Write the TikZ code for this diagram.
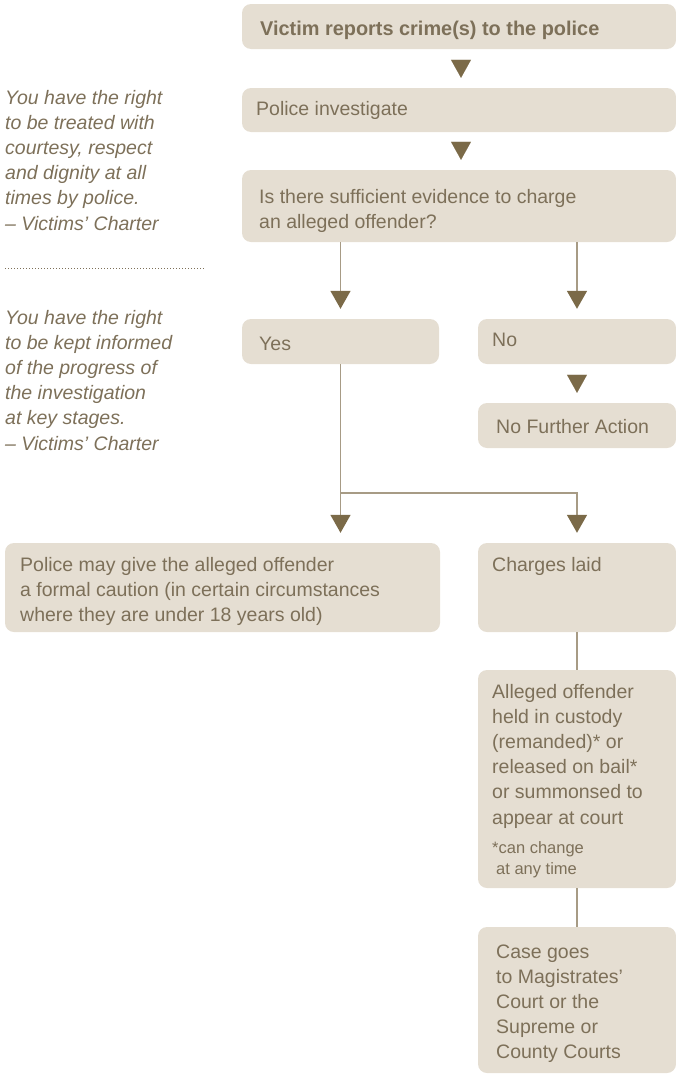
\documentclass[tikz,border=0pt]{standalone}
\usepackage{fontspec}
\setmainfont{Liberation Sans}
\usetikzlibrary{arrows.meta}

\definecolor{boxfill}{HTML}{E5DED2}
\definecolor{ink}{HTML}{7D7059}
\definecolor{tipcol}{HTML}{7B6A48}
\definecolor{wirecol}{HTML}{A79B85}

\begin{document}
\begin{tikzpicture}[x=1pt,y=-1pt,
  panel/.style={fill=boxfill, draw=none, rounded corners=9pt, inner sep=0pt},
  % multi-line texts are anchored at the baseline of their last line
  lbl/.style={anchor=base west, inner sep=0pt, text=ink, align=left,
              font=\fontsize{19.5}{25.2}\selectfont},
  lblbold/.style={lbl, font=\fontsize{19.9}{25.2}\selectfont\bfseries},
  notetxt/.style={lbl, font=\fontsize{19.5}{25.2}\selectfont\itshape},
  smalltxt/.style={lbl, font=\fontsize{16.5}{21}\selectfont},
  wire/.style={draw=wirecol, line width=1.5pt},
  flow/.style={wire, -{Triangle[length=18pt,width=20pt,color=tipcol]}, shorten >=10pt},
  tiponly/.style={draw=tipcol, line width=0.1pt,
                  -{Triangle[length=18pt,width=20pt,color=tipcol]},
                  shorten <=11pt, shorten >=10pt},
]
\useasboundingbox (0,0) rectangle (676,1076);

% ---- boxes ----
\node[panel, minimum width=434pt, minimum height=45pt] (b1)      at (459,26.5)  {};
\node[panel, minimum width=434pt, minimum height=44pt] (b2)      at (459,110)   {};
\node[panel, minimum width=434pt, minimum height=72pt] (b3)      at (459,206)   {};
\node[panel, minimum width=197pt, minimum height=45pt] (yes)     at (340.5,341.5) {};
\node[panel, minimum width=198pt, minimum height=45pt] (no)      at (577,341.5) {};
\node[panel, minimum width=198pt, minimum height=45pt] (nfa)     at (577,425.5) {};
\node[panel, minimum width=435pt, minimum height=89pt] (caution) at (222.5,587.5) {};
\node[panel, minimum width=198pt, minimum height=89pt] (charges) at (577,587.5) {};
\node[panel, minimum width=198pt, minimum height=218pt] (alleged) at (577,779) {};
\node[panel, minimum width=198pt, minimum height=146pt] (case)    at (577,1000) {};

% ---- texts ----
\node[lblbold] (t1) at (260,35)  {Victim reports crime(s) to the police};
\node[lbl] (t2) at (256,115) {Police investigate};
\node[lbl] (t3) at (259,228.2) {Is there sufficient evidence to charge\\an alleged offender?};
\node[lbl] (tyes) at (259,350) {Yes};
\node[lbl] (tno)  at (492,346) {No};
\node[lbl] (tnfa) at (496,433) {No Further Action};
\node[lbl] (tcaution) at (20,621.4) {Police may give the alleged offender\\a formal caution (in certain circumstances\\where they are under 18 years old)};
\node[lbl] (tcharges) at (492,571) {Charges laid};
\node[lbl] (talleged) at (492,824) {Alleged offender\\held in custody\\(remanded)* or\\released on bail*\\or summonsed to\\appear at court};
\node[smalltxt] (tstar) at (492,874) {*can change\\\hspace*{4pt}at any time};
\node[lbl] (tcase) at (496,1058.8) {Case goes\\to Magistrates’\\Court or the\\Supreme or\\County Courts};

% ---- side notes ----
\node[notetxt] (n1) at (5,230) {You have the right\\to be treated with\\courtesy, respect\\and dignity at all\\times by police.\\– Victims’ Charter};
\coordinate (sepL) at (5,268);
\coordinate (sepR) at (205,268);
\draw[draw=ink, line width=0.9pt, dash pattern=on 0.9pt off 2.1pt] (sepL) -- (sepR);
\node[notetxt] (n2) at (5,450) {You have the right\\to be kept informed\\of the progress of\\the investigation\\at key stages.\\– Victims’ Charter};

% ---- connectors ----
\draw[tiponly] ([xshift=2pt]b1.south) -- ([xshift=2pt]b2.north);
\draw[tiponly] ([xshift=2pt]b2.south) -- ([xshift=2pt]b3.north);
\draw[flow] (b3.south -| yes.north) -- (yes.north);
\draw[flow] (b3.south -| no.north) -- (no.north);
\draw[tiponly] (no.south) -- (nfa.north);
\coordinate (split) at (340.5,493);
\draw[wire] (yes.south) -- (split);
\draw[flow] (split) -- (split |- caution.north);
\draw[flow] (split) -| (charges.north);
\draw[wire] (charges.south) -- (alleged.north);
\draw[wire] (alleged.south) -- (case.north);
\end{tikzpicture}
\end{document}
